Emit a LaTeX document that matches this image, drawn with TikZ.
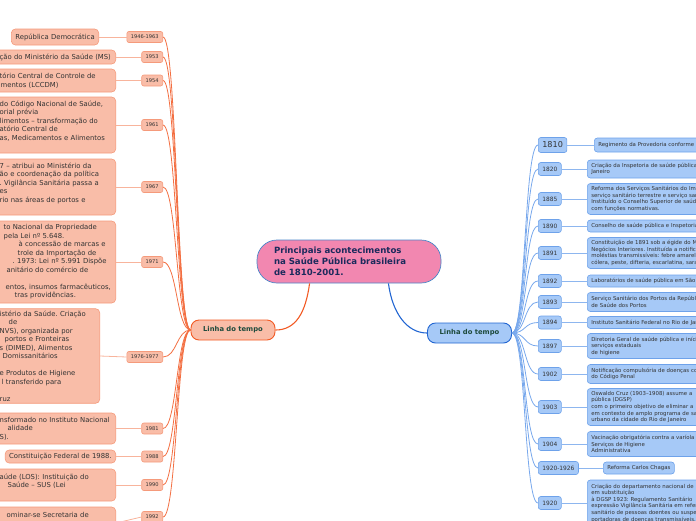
\documentclass[tikz,border=0pt]{standalone}
\usepackage{fontspec}
\setmainfont{DejaVu Sans}
\usetikzlibrary{positioning}
\frenchspacing
\definecolor{cenfill}{HTML}{F287B0}
\definecolor{cenline}{HTML}{4A86C8}
\definecolor{centext}{HTML}{1B2A5C}
\definecolor{lfill}{HTML}{F9BDA8}
\definecolor{lline}{HTML}{F59A7B}
\definecolor{lmainline}{HTML}{F25A24}
\definecolor{ltrunk}{HTML}{F36F42}
\definecolor{lconn}{HTML}{F8B49C}
\definecolor{rfill}{HTML}{A6C9F7}
\definecolor{rline}{HTML}{6EA2EA}
\definecolor{rmainline}{HTML}{2266D2}
\definecolor{rtrunk}{HTML}{78A8EC}
\definecolor{rconn}{HTML}{8DB6EF}
\definecolor{maintext}{HTML}{1D4A3C}
\definecolor{evtext}{HTML}{333333}
\newcommand\evfontL{\fontsize{6.85}{8.5}\selectfont}
\newcommand\evfontR{\fontsize{5.4}{6.6}\selectfont}
\newcommand\yrfontL{\fontsize{5.1}{6}\selectfont}
\newcommand\yrfontR{\fontsize{5.9}{7}\selectfont}
\tikzset{
  cenbox/.style={draw=cenline, fill=cenfill, line width=0.7pt, rounded corners=20pt,
    text width=150pt, align=left, inner xsep=17pt, minimum height=43pt,
    font=\bfseries\fontsize{8.6}{11}\selectfont, text=centext},
  mainL/.style={draw=lmainline, fill=lfill, line width=0.9pt, rounded corners=8pt,
    minimum width=84pt, minimum height=20pt, font=\bfseries\fontsize{6.8}{8}\selectfont, text=maintext},
  mainR/.style={mainL, draw=rmainline, fill=rfill},
  evL/.style={draw=lline, fill=lfill, line width=0.6pt, rounded corners=4pt, font=\evfontL,
    text=evtext, align=left, inner xsep=4pt, inner ysep=2pt, anchor=east},
  evR/.style={draw=rline, fill=rfill, line width=0.6pt, rounded corners=3pt, font=\evfontR,
    text=evtext, align=left, inner xsep=4pt, inner ysep=2pt, anchor=west},
  yrL/.style={draw=lline, fill=lfill, line width=0.6pt, rounded corners=2pt, font=\yrfontL,
    text=evtext, inner xsep=4pt, inner ysep=0pt, minimum height=11pt, anchor=east},
  yrR/.style={draw=rline, fill=rfill, line width=0.6pt, rounded corners=2.5pt, font=\yrfontR,
    text=evtext, inner xsep=4pt, inner ysep=0pt, minimum height=13pt, anchor=west},
  cenL/.style={draw=lmainline, line width=1.1pt},
  cenR/.style={draw=rmainline, line width=1.1pt},
}
\begin{document}
\begin{tikzpicture}[x=1pt,y=-1pt]
  \useasboundingbox (0,0) rectangle (696,520);
  \clip (0,0) rectangle (696,520);

  \node[cenbox] (cen) at (349,261.5) {Principais acontecimentos\\na Saúde Pública brasileira\\de 1810-2001.};
  \node[mainL] (lmain) at (233,330) {Linha do tempo};
  \node[mainR] (rmain) at (469.5,333) {Linha do tempo};
  \draw[cenL] (cen.209) .. controls +(-4,30) and +(20,0) .. (lmain.east);
  \draw[cenR] (cen.331) .. controls +(4,30) and +(-20,0) .. (rmain.west);

  % left side
  \foreach \n/\t/\y in {1946/1946-1963/37,1953/1953/57,1954/1954/80.5,1961/1961/125,1967/1967/187,
      1971/1971/262,1976/1976-1977/357,1981/1981/428.5,1988/1988/456.5,1990/1990/485,1992/1992/517}{
    \node[yrL] (ly\n) at (163,\y) {\t};
    \draw[ltrunk, line width=0.8pt] (lmain.west) .. controls +(-14,0) and +(14,0) .. (ly\n.east);
  }
  \node[evL, minimum height=16pt] (le1946) at (99,37) {República Democrática};
  \node[evL, text width=112pt, minimum height=14pt] (le1953) at (116,57) {ção do Ministério da Saúde (MS)};
  \node[evL, text width=112pt, minimum height=23pt] (le1954) at (116,80.5)
    {tório Central de Controle de\\\hspace*{1pt}mentos (LCCDM)};
  \node[evL, text width=112pt, minimum height=56pt] (le1961) at (116,125)
    {do Código Nacional de Saúde,\\orial prévia\\limentos – transformação do\\atório Central de\\as, Medicamentos e Alimentos\\\mbox{}};
  \node[evL, text width=112pt, minimum height=56pt] (le1967) at (116,187)
    {7 – atribui ao Ministério da\\ão e coordenação da política\\. Vigilância Sanitária passa a\\es\\rio nas áreas de portos e\\\mbox{}};
  \node[evL, text width=112pt, minimum height=82pt] (le1971) at (116,262)
    {\hspace*{4pt}to Nacional da Propriedade\\\hspace*{4pt}pela Lei nº 5.648.\\\hspace*{19pt}à concessão de marcas e\\\hspace*{18pt}trole da Importação de\\\hspace*{13pt}. 1973: Lei nº 5.991 Dispõe\\\hspace*{7pt}anitário do comércio de\\\mbox{}\\\hspace*{6pt}entos, insumos farmacêuticos,\\\hspace*{15pt}tras providências.};
  \node[evL, text width=96pt, minimum height=94pt] (le1976) at (100,356)
    {istério da Saúde. Criação\\\hspace*{9pt}de\\NVS), organizada por\\\hspace*{5pt}portos e Fronteiras\\s (DIMED), Alimentos\\\hspace*{3pt}Domissanitários\\\mbox{}\\e Produtos de Higiene\\\hspace*{2pt}l transferido para\\\mbox{}\\ruz};
  \node[evL, text width=112pt, minimum height=31pt] (le1981) at (116,428.5)
    {nsformado no Instituto Nacional\\\hspace*{8pt}alidade\\S).};
  \node[evL, minimum height=13pt] (le1988) at (116,456.5) {Constituição Federal de 1988.};
  \node[evL, text width=112pt, minimum height=32pt] (le1990) at (116,485)
    {aúde (LOS): Instituição do\\\hspace*{8pt}Saúde – SUS (Lei\\\mbox{}};
  \node[evL, text width=112pt, minimum height=32pt] (le1992) at (116,523)
    {\hspace*{7pt}ominar-se Secretaria de\\\mbox{}\\\mbox{}};
  \foreach \n in {1946,1953,1954,1961,1967,1971,1976,1981,1988,1990,1992}
    \draw[lconn, line width=0.8pt] (le\n.east) -- (ly\n.west);

  % right side
  \node[yrR, font=\fontsize{8.1}{9}\selectfont, minimum height=15pt] (ry1810) at (538,145) {1810};
  \draw[rtrunk, line width=0.8pt] (rmain.east) .. controls +(14,0) and +(-14,0) .. (ry1810.west);
  \foreach \n/\t/\y in {1820/1820/169,1885/1885/199,1890/1890/226,1891/1891/253,1892/1892/281,
      1893/1893/302,1894/1894/322.5,1897/1897/346,1902/1902/374,1903/1903/407,1904/1904/444,
      1926/1920-1926/468,1920/1920/503}{
    \node[yrR] (ry\n) at (538,\y) {\t};
    \draw[rtrunk, line width=0.8pt] (rmain.east) .. controls +(14,0) and +(-14,0) .. (ry\n.west);
  }
  \node[evR, text width=200pt, minimum height=14pt] (re1810) at (594,145) {Regimento da Provedoria conforme};
  \node[evR, text width=200pt, minimum height=18pt] (re1820) at (587,169)
    {Criação da Inspetoria de saúde pública\\Janeiro};
  \node[evR, text width=200pt, minimum height=31pt] (re1885) at (587,199)
    {Reforma dos Serviços Sanitários do Império\\serviço sanitário terrestre e serviço sanitário\\Instituído o Conselho Superior de saúde\\com funções normativas.};
  \node[evR, text width=200pt, minimum height=12pt] (re1890) at (587,226) {Conselho de saúde pública e Inspetoria};
  \node[evR, text width=200pt, minimum height=31pt] (re1891) at (587,253)
    {Constituição de 1891 sob a égide do Ministério\\Negócios Interiores. Instituída a notificação\\moléstias transmissíveis: febre amarela,\\cólera, peste, difteria, escarlatina, sarampo};
  \node[evR, text width=200pt, minimum height=12pt] (re1892) at (587,281) {Laboratórios de saúde pública em São Paulo};
  \node[evR, text width=200pt, minimum height=19pt] (re1893) at (587,302)
    {Serviço Sanitário dos Portos da República\\de Saúde dos Portos};
  \node[evR, text width=200pt, minimum height=12pt] (re1894) at (587,322.5) {Instituto Sanitário Federal no Rio de Janeiro};
  \node[evR, text width=200pt, minimum height=25pt] (re1897) at (587,346)
    {Diretoria Geral de saúde pública e início\\serviços estaduais\\de higiene};
  \node[evR, text width=200pt, minimum height=19pt] (re1902) at (587,374)
    {Notificação compulsória de doenças com\\do Código Penal};
  \node[evR, text width=200pt, minimum height=37pt] (re1903) at (587,407)
    {Oswaldo Cruz (1903–1908) assume a\\pública (DGSP)\\com o primeiro objetivo de eliminar a\\em contexto de amplo programa de saneamento\\urbano da cidade do Rio de Janeiro};
  \node[evR, text width=200pt, minimum height=25pt] (re1904) at (587,444)
    {Vacinação obrigatória contra a varíola\\Serviços de Higiene\\Administrativa};
  \node[evR, minimum height=12pt] (re1926) at (603,468) {Reforma Carlos Chagas};
  \node[evR, text width=200pt, minimum height=46pt] (re1920) at (587,503)
    {Criação do departamento nacional de\\em substituição\\à DGSP 1923: Regulamento Sanitário\\expressão Vigilância Sanitária em referência\\sanitário de pessoas doentes ou suspeitas\\portadoras de doenças transmissíveis.};
  \foreach \n in {1810,1820,1885,1890,1891,1892,1893,1894,1897,1902,1903,1904,1926,1920}
    \draw[rconn, line width=0.8pt] (ry\n.east) -- (re\n.west);
\end{tikzpicture}
\end{document}
